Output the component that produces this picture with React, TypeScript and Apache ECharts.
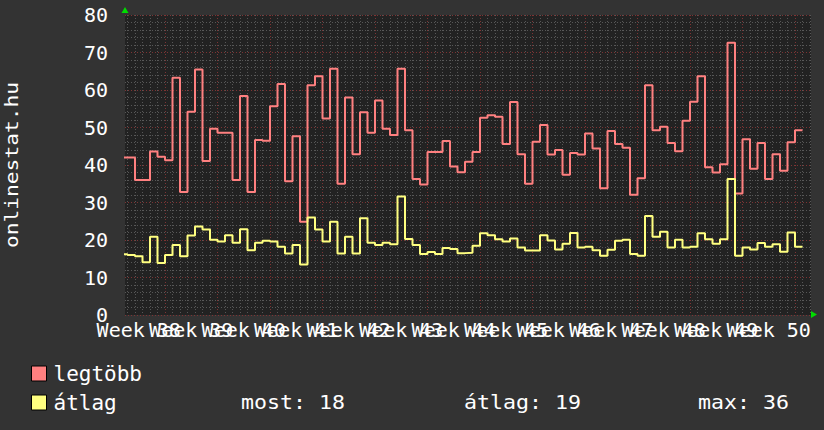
import React, { useEffect, useRef } from 'react';
import * as echarts from 'echarts';

// Daily values, first entry = partially visible day before the first full day
const legtobb = [
  42, 42, 36, 36, 43.6, 42.2, 41.3, 63.3, 32.8, 54.2, 65.5, 41.1, 49.7, 48.6, 48.6,
  36, 58.4, 32.8, 46.7, 46.5, 55.7, 61.6, 35.7, 47.7, 24.9, 61.3, 63.7, 52.4, 65.7,
  35, 58, 42.9, 54.1, 48.6, 57.2, 49.7, 48, 65.7, 49.3, 36.3, 34.8, 43.5, 43.5, 46.4,
  39.6, 38.1, 40.9, 43.5, 52.6, 53.3, 52.9, 45.6, 56.8, 42.9, 35, 46.2, 50.7, 42.8,
  44, 37.4, 43.2, 42.8, 48.4, 44.4, 33.8, 49.1, 45.6, 44.6, 32.1, 36.5, 61.3, 49.3,
  50.2, 45.9, 43.7, 51.8, 56.9, 63.7, 39.4, 38, 40.2, 72.6, 32.4, 46.9, 39, 45.9,
  36.3, 42.9, 38.5, 46.1, 49.3,
];

const atlag = [
  16.2, 16, 15.7, 14.1, 20.9, 13.9, 16, 18.7, 15.7, 21.2, 23.6, 22.8, 20.1, 19.6, 21.3,
  19.3, 22.9, 17.3, 19.3, 19.8, 19.6, 18.2, 16.4, 18.7, 13.5, 26, 22.8, 19.6, 24.9,
  16.4, 20.9, 16.4, 25.8, 19.3, 18.7, 19.3, 18.9, 31.6, 20.3, 18.7, 16.3, 16.8, 16.3,
  17.9, 17.6, 16.5, 16.6, 18.5, 21.8, 21.3, 20.2, 19.6, 20.4, 18, 17.2, 17.2, 21.3,
  19.9, 17.5, 19, 21.9, 18, 18.2, 17.3, 15.8, 17.4, 19.8, 20.1, 16.3, 15.8, 26.4,
  20.9, 22.2, 18, 20.1, 18, 18.2, 21.8, 20.2, 19, 20.2, 36.3, 15.8, 18, 17.5, 19.2,
  18.2, 18.9, 16.9, 22, 18.2,
];

const weekLabels = [
  'Week 38', 'Week 39', 'Week 40', 'Week 41', 'Week 42', 'Week 43', 'Week 44',
  'Week 45', 'Week 46', 'Week 47', 'Week 48', 'Week 49', 'Week 50',
];

const seriesNames = ['legtöbb', 'átlag'];
const statLabels = ['most: 18', 'átlag: 19', 'max: 36'];

const FONT = '"DejaVu Sans Mono", monospace';
const X_MIN = -1 / 3;
const X_MAX = X_MIN + 686 / 7.5;

// day-end x positions: index i ends at x = i
const toStep = (v: number[]) => [[-1, v[0]], ...v.map((y, i) => [i, y])];

const weekBounds = weekLabels.map((_, k) => 5 + 7 * k).filter((v) => v <= X_MAX);
const weekCenters = weekLabels.map((_, k) => 1.5 + 7 * k);
const evenCenters = weekCenters.filter((_, k) => k % 2 === 0);
const oddCenters = weekCenters.filter((_, k) => k % 2 === 1);
const dayBounds = Array.from({ length: 92 }, (_, i) => i);
const weekFormatter = (v: number) => weekLabels[Math.round((v - 1.5) / 7)] ?? '';

export default function App() {
  const ref = useRef<HTMLDivElement>(null);
  useEffect(() => {
    if (!ref.current) return;
    const chart = echarts.init(ref.current, undefined, { renderer: 'svg' });
    const minorColor = '#575757';
    const majorColor = '#7d3434';
    const labelStyle = {
      formatter: weekFormatter,
      color: '#ffffff', fontFamily: FONT, fontSize: 20, margin: 5,
      hideOverlap: false,
    };
    chart.setOption({
      animation: false,
      backgroundColor: '#333333',
      textStyle: { fontFamily: FONT },
      grid: {
        left: 125, top: 15, width: 686, height: 300,
        show: true, backgroundColor: '#222222', borderWidth: 0,
      },
      xAxis: [
        {
          type: 'value', min: X_MIN, max: X_MAX, position: 'bottom',
          axisLine: { show: false },
          axisTick: { show: false, customValues: dayBounds },
          axisLabel: { show: false },
          splitLine: { show: true, lineStyle: { color: minorColor, width: 1, type: [1, 2] } },
        },
        {
          type: 'value', min: X_MIN, max: X_MAX, position: 'bottom',
          axisLine: { show: false },
          axisTick: { show: false, customValues: weekBounds },
          splitLine: { show: true, lineStyle: { color: majorColor, width: 1, type: [1, 2] } },
          axisLabel: { ...labelStyle, customValues: evenCenters },
        },
        {
          type: 'value', min: X_MIN, max: X_MAX, position: 'bottom',
          axisLine: { show: false },
          axisTick: { show: false },
          splitLine: { show: false },
          axisLabel: { ...labelStyle, customValues: oddCenters },
        },
      ],
      yAxis: {
        type: 'value', min: 0, max: 80, interval: 10,
        axisLine: { show: false },
        axisTick: { show: false },
        axisLabel: { color: '#ffffff', fontFamily: FONT, fontSize: 20, margin: 17 },
        splitLine: { show: true, lineStyle: { color: majorColor, width: 1, type: [1, 2] } },
        minorTick: { show: false, splitNumber: 5 },
        minorSplitLine: { show: true, lineStyle: { color: minorColor, width: 1, type: [1, 2] } },
      },
      legend: {
        orient: 'vertical', left: 31, top: 363, padding: 0,
        icon: 'rect', itemWidth: 15, itemHeight: 15, itemGap: 8,
        itemStyle: { borderColor: '#000000', borderWidth: 1 },
        textStyle: { color: '#ffffff', fontFamily: FONT, fontSize: 21, lineHeight: 20, padding: [0, 0, 0, 2] },
        data: seriesNames,
        selectedMode: false,
      },
      series: [
        {
          name: seriesNames[0], type: 'line', step: 'start', xAxisIndex: 1,
          data: toStep(legtobb), showSymbol: false,
          lineStyle: { color: '#ff8080', width: 2 }, itemStyle: { color: '#ff8080' },
        },
        {
          name: seriesNames[1], type: 'line', step: 'start', xAxisIndex: 1,
          data: toStep(atlag), showSymbol: false,
          lineStyle: { color: '#ffff80', width: 2 }, itemStyle: { color: '#ffff80' },
        },
      ],
      graphic: [
        {
          type: 'text', x: 12, y: 165, rotation: Math.PI / 2, scaleX: 1.18,
          style: { text: 'onlinestat.hu', fill: '#ffffff', font: `18px ${FONT}`, align: 'center', verticalAlign: 'middle' },
        },
        { type: 'polygon', shape: { points: [[125, 7], [121.5, 13], [128.5, 13]] }, style: { fill: '#00dd00' } },
        { type: 'polygon', shape: { points: [[817, 314.5], [811, 311], [811, 318]] }, style: { fill: '#00dd00' } },
        ...statLabels.map((t, i) => ({
          type: 'text', x: [241, 464, 698][i], y: 402, scaleX: 1.08,
          style: { text: t, fill: '#ffffff', font: `20px ${FONT}`, align: 'left', verticalAlign: 'middle' },
        })),
      ],
    });
    return () => chart.dispose();
  }, []);
  return (
    <div
      ref={ref}
      style={{ position: 'fixed', left: 0, top: 0, width: 824, height: 430 }}
    />
  );
}
